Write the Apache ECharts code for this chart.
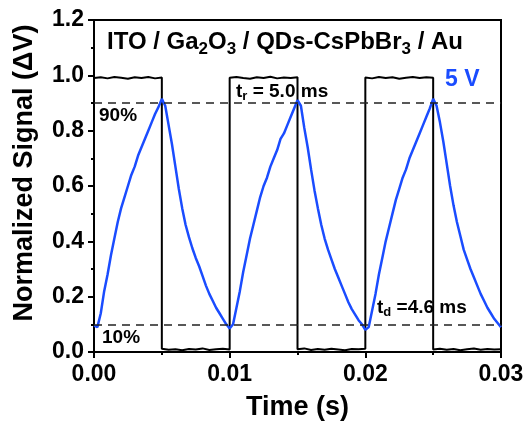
<!DOCTYPE html>
<html>
<head>
<meta charset="utf-8">
<script src="https://cdn.jsdelivr.net/npm/echarts@6/dist/echarts.min.js"></script>
<style>
  html, body { margin: 0; padding: 0; background: #fff; }
  #chart { width: 532px; height: 430px; }
</style>
</head>
<body>
<div id="chart"></div>
<script>
// sampling step of the blue trace (s)
const step = 0.00025;

// blue trace, one array per 10 ms period (40 samples each)
const blue1 = [0.095, 0.09, 0.14, 0.22, 0.28, 0.35, 0.41, 0.47, 0.52, 0.56, 0.60, 0.64, 0.67, 0.71, 0.74, 0.77, 0.80, 0.83, 0.86, 0.885, 0.915,
  0.89, 0.82, 0.75, 0.67, 0.59, 0.52, 0.46, 0.415, 0.375, 0.34, 0.31, 0.275, 0.24, 0.21, 0.185, 0.16, 0.14, 0.12, 0.10];
const blue2 = [0.085, 0.10, 0.16, 0.22, 0.29, 0.35, 0.41, 0.46, 0.51, 0.56, 0.60, 0.63, 0.67, 0.70, 0.73, 0.77, 0.79, 0.82, 0.85, 0.88, 0.91,
  0.89, 0.81, 0.74, 0.66, 0.585, 0.52, 0.46, 0.41, 0.37, 0.335, 0.30, 0.27, 0.24, 0.21, 0.18, 0.155, 0.135, 0.115, 0.10];
const blue3 = [0.08, 0.09, 0.15, 0.21, 0.28, 0.34, 0.40, 0.45, 0.50, 0.55, 0.59, 0.63, 0.66, 0.70, 0.73, 0.76, 0.79, 0.82, 0.85, 0.88, 0.915,
  0.89, 0.83, 0.76, 0.68, 0.60, 0.53, 0.47, 0.42, 0.37, 0.335, 0.30, 0.27, 0.24, 0.21, 0.185, 0.16, 0.14, 0.12, 0.105];
const blueEnd = 0.09;

// square wave (light on / off), sampled every 0.5 ms on each plateau
const sqStep = 0.0005;
const sqOn1 = [0.99, 0.993, 0.989, 0.994, 0.991, 0.988, 0.993, 0.99, 0.994, 0.989, 0.992];
const sqOff1 = [0.012, 0.008, 0.01, 0.006, 0.011, 0.009, 0.013, 0.007, 0.01, 0.012, 0.009];
const sqOn2 = [0.991, 0.994, 0.99, 0.988, 0.993, 0.99, 0.995, 0.989, 0.992, 0.99, 0.993];
const sqOff2 = [0.01, 0.013, 0.007, 0.011, 0.008, 0.012, 0.009, 0.006, 0.011, 0.01, 0.012];
const sqOn3 = [0.992, 0.989, 0.994, 0.99, 0.993, 0.988, 0.991, 0.994, 0.99, 0.993, 0.991];
const sqOff3 = [0.009, 0.012, 0.008, 0.011, 0.006, 0.01, 0.013, 0.008, 0.011, 0.009, 0.01];

const yTicks = [0, 0.2, 0.4, 0.6, 0.8, 1.0, 1.2];
const xTicks = [0, 0.01, 0.02, 0.03];
const levels = [0.9, 0.1];

// build [t, v] pairs
let blueData = [];
[blue1, blue2, blue3].forEach((arr, k) => {
  arr.forEach((v, i) => blueData.push([k * 0.01 + i * step, v]));
});
blueData.push([0.03, blueEnd]);

let sqData = [];
[sqOn1, sqOff1, sqOn2, sqOff2, sqOn3, sqOff3].forEach((arr, k) => {
  arr.forEach((v, i) => sqData.push([k * 0.005 + i * sqStep, v]));
});

const font = 'Liberation Sans, Arial, sans-serif';
const blue = '#1a4cff';

let chart = echarts.init(document.getElementById('chart'));
chart.setOption({
  animation: false,
  grid: { left: 94, right: 31, top: 20, bottom: 78, show: true, borderColor: '#000', borderWidth: 2, backgroundColor: 'transparent' },
  xAxis: {
    type: 'value', min: xTicks[0], max: xTicks[xTicks.length - 1], interval: 0.01,
    axisLine: { lineStyle: { color: '#000', width: 2 } },
    axisTick: { length: 6, lineStyle: { color: '#000', width: 2 } },
    minorTick: { show: true, splitNumber: 2, length: 3, lineStyle: { color: '#000', width: 2 } },
    splitLine: { show: false },
    axisLabel: { formatter: v => v.toFixed(2), fontSize: 23, fontWeight: 'bold', color: '#000', fontFamily: font, margin: 11 },
    name: 'Time (s)', nameLocation: 'middle', nameGap: 42,
    nameTextStyle: { fontSize: 27, fontWeight: 'bold', color: '#000', fontFamily: font }
  },
  yAxis: {
    type: 'value', min: yTicks[0], max: yTicks[yTicks.length - 1], interval: 0.2,
    axisLine: { show: true, lineStyle: { color: '#000', width: 2 } },
    axisTick: { show: true, length: 6, lineStyle: { color: '#000', width: 2 } },
    minorTick: { show: true, splitNumber: 2, length: 3, lineStyle: { color: '#000', width: 2 } },
    splitLine: { show: false },
    axisLabel: { formatter: v => v.toFixed(1), fontSize: 23, fontWeight: 'bold', color: '#000', fontFamily: font, margin: 10 },
    name: 'Normalized Signal (ΔV)', nameLocation: 'middle', nameGap: 56,
    nameTextStyle: { fontSize: 27, fontWeight: 'bold', color: '#000', fontFamily: font, padding: [0, 0, 0, 26] }
  },
  series: [
    {
      type: 'line', data: sqData, showSymbol: false,
      lineStyle: { color: '#000', width: 2 },
      markLine: {
        silent: true, symbol: 'none', label: { show: false },
        lineStyle: { color: '#222', width: 1.5, type: [8, 6] },
        data: levels.map(l => ({ yAxis: l }))
      }
    },
    {
      type: 'line', data: blueData, showSymbol: false,
      lineStyle: { color: blue, width: 2.5 }
    }
  ],
  graphic: [
    {
      type: 'text', left: 107, top: 30,
      style: {
        text: 'ITO / Ga{s|2}O{s|3} / QDs-CsPbBr{s|3} / Au',
        font: 'bold 24px ' + font, fill: '#000',
        rich: { s: { fontSize: 17, fontWeight: 'bold', fontFamily: font, padding: [14, 0, 0, 0] } }
      }
    },
    { type: 'text', left: 445, top: 68, style: { text: '5 V', font: 'bold 23px ' + font, fill: blue } },
    {
      type: 'text', left: 236, top: 82,
      style: {
        text: 't{s|r} = 5.0 ms', font: 'bold 19px ' + font, fill: '#000',
        rich: { s: { fontSize: 13, fontWeight: 'bold', fontFamily: font, padding: [10, 0, 0, 0] } }
      }
    },
    { type: 'text', left: 99, top: 106, style: { text: '90%', font: 'bold 19px ' + font, fill: '#000' } },
    { type: 'text', left: 102, top: 328, style: { text: '10%', font: 'bold 19px ' + font, fill: '#000' } },
    {
      type: 'text', left: 377, top: 298,
      style: {
        text: 't{s|d} =4.6 ms', font: 'bold 19px ' + font, fill: '#000',
        rich: { s: { fontSize: 13, fontWeight: 'bold', fontFamily: font, padding: [10, 0, 0, 0] } }
      }
    }
  ]
});
</script>
</body>
</html>
